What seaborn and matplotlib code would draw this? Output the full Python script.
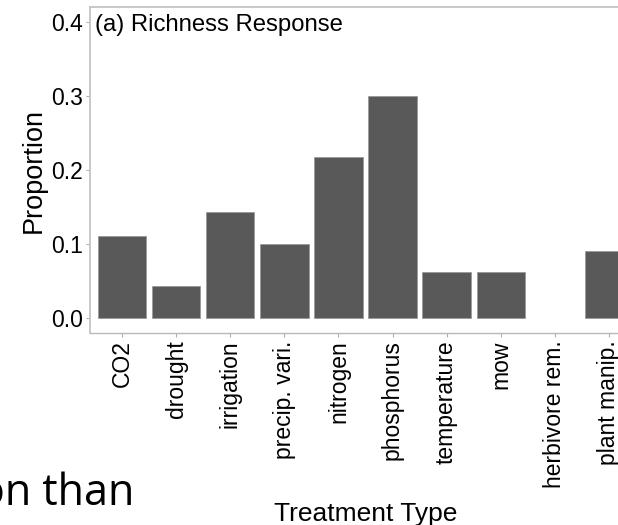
import matplotlib
matplotlib.use("Agg")
import matplotlib.pyplot as plt
import seaborn as sns
import pandas as pd

# Proportion of studies reporting a richness response, by treatment
treatments = ["CO2", "drought", "irrigation", "precip. vari.", "nitrogen",
              "phosphorus", "temperature", "mow", "herbivore rem.", "plant manip."]
proportions = [0.111, 0.0435, 0.143, 0.100, 0.217, 0.300, 0.0625, 0.0625, 0.0, 0.091]
y_ticks = [0.0, 0.1, 0.2, 0.3, 0.4]
y_tick_labels = ["0.0", "0.1", "0.2", "0.3", "0.4"]

df = pd.DataFrame({"Treatment": treatments, "Proportion": proportions})

sns.set_theme(style="white")
plt.rcParams["font.family"] = ["Liberation Sans", "DejaVu Sans"]

W, H = 618, 525
fig = plt.figure(figsize=(W / 100, H / 100), dpi=100)
# panel runs past the right edge of the canvas
left, right, top, bottom = 90, 641, 7, 333.3
ax = fig.add_axes([left / W, 1 - bottom / H, (right - left) / W, (bottom - top) / H])

sns.barplot(data=df, x="Treatment", y="Proportion", order=treatments,
            color="#595959", saturation=1, width=0.89, ax=ax,
            edgecolor="#9a9a9a", linewidth=0.6)

# empty categories get no outline
for patch in ax.patches:
    if patch.get_height() == 0:
        patch.set_linewidth(0)

ax.set_xlim(-0.6, 9.6)
ax.set_ylim(-0.021, 0.4205)
ax.set_yticks(y_ticks)
ax.set_yticklabels(y_tick_labels)

for side in ["left", "top"]:
    ax.spines[side].set_visible(True)
    ax.spines[side].set_color("#c4c4c4")
    ax.spines[side].set_linewidth(1.3)
ax.spines["bottom"].set_color("#b8b8b8")
ax.spines["bottom"].set_linewidth(1.0)
ax.spines["right"].set_visible(False)

ax.tick_params(axis="both", which="both", length=3, width=0.8, color="#b0b0b0",
               labelsize=16.5, labelcolor="black", pad=2, left=True, bottom=True)
ax.tick_params(axis="x", labelrotation=90)

ax.set_ylabel("Proportion", fontsize=19.5, color="black", labelpad=3)
ax.set_xlabel("Treatment Type", fontsize=19, color="black", labelpad=10)

ax.text(0.009, 0.978, "(a) Richness Response", transform=ax.transAxes,
        ha="left", va="top", fontsize=17.2, color="black")

# fragment of slide text beside the figure
fig.text(134 / W, 1 - 505 / H, "on than", ha="right", va="baseline",
         fontsize=31, color="black", family=["Open Sans", "DejaVu Sans"])

fig.savefig("out.png", dpi=100)
